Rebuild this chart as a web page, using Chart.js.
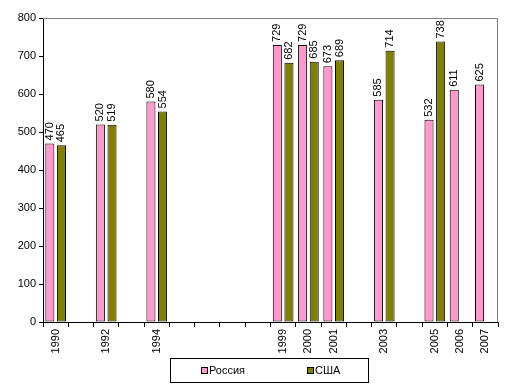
<!DOCTYPE html>
<html>
<head>
<meta charset="utf-8">
<script src="https://cdn.jsdelivr.net/npm/chart.js@4/dist/chart.umd.min.js"></script>
<style>
  html, body { margin: 0; padding: 0; background: #fff; }
  #wrap { width: 512px; height: 391px; }
</style>
</head>
<body>
<div id="wrap"><canvas id="chart" width="512" height="391"></canvas></div>
<script>
// categories and values
const years = ['1990','1991','1992','1993','1994','1995','1996','1997','1998','1999','2000','2001','2002','2003','2004','2005','2006','2007'];
const russia = [470, null, 520, null, 580, null, null, null, null, 729, 729, 673, null, 585, null, 532, 611, 625];
const usa = [465, null, 519, null, 554, null, null, null, null, 682, 685, 689, null, 714, null, 738, null, null];
const yTicks = [0, 100, 200, 300, 400, 500, 600, 700, 800];

const FONT = 'Liberation Sans, Arial, sans-serif';

// gray frame on top and right of the plot
const framePlugin = {
    id: 'frame',
    beforeDatasetsDraw(chart) {
        const a = chart.chartArea, ctx = chart.ctx;
        ctx.save();
        ctx.strokeStyle = '#808080';
        ctx.lineWidth = 1;
        ctx.beginPath();
        ctx.moveTo(a.left, a.top + 0.5);
        ctx.lineTo(a.right - 0.5, a.top + 0.5);
        ctx.lineTo(a.right - 0.5, a.bottom);
        ctx.stroke();
        ctx.restore();
    }
};

// vertical value labels above each bar
const valuePlugin = {
    id: 'values',
    afterDatasetsDraw(chart) {
        const ctx = chart.ctx;
        ctx.save();
        ctx.font = '11px ' + FONT;
        ctx.fillStyle = '#000';
        ctx.textAlign = 'left';
        ctx.textBaseline = 'middle';
        chart.data.datasets.forEach((ds, i) => {
            chart.getDatasetMeta(i).data.forEach((bar, j) => {
                const v = ds.data[j];
                if (v == null) return;
                ctx.save();
                ctx.translate(bar.x, bar.y - 3);
                ctx.rotate(-Math.PI / 2);
                ctx.fillText(String(v), 0, 0);
                ctx.restore();
            });
        });
        ctx.restore();
    }
};

// framed legend below the axis, built from the datasets
const legendPlugin = {
    id: 'boxLegend',
    afterDraw(chart) {
        const ctx = chart.ctx;
        const itemX = [201, 307];
        ctx.save();
        ctx.strokeStyle = '#000';
        ctx.lineWidth = 1;
        ctx.strokeRect(170.5, 358.5, 198, 24);
        ctx.font = '11px ' + FONT;
        ctx.textAlign = 'left';
        ctx.textBaseline = 'middle';
        chart.data.datasets.forEach((ds, i) => {
            const x = itemX[i];
            ctx.fillStyle = ds.backgroundColor;
            ctx.fillRect(x, 367, 6, 6);
            ctx.strokeStyle = '#000';
            ctx.strokeRect(x + 0.5, 367.5, 6, 6);
            ctx.fillStyle = '#000';
            ctx.fillText(ds.label, x + 8, 370.5);
        });
        ctx.restore();
    }
};

new Chart(document.getElementById('chart'), {
    type: 'bar',
    data: {
        labels: years,
        datasets: [{
            label: 'Россия',
            data: russia,
            backgroundColor: '#FF99CC',
            borderColor: '#000',
            borderWidth: 1,
            borderSkipped: false
        }, {
            label: 'США',
            data: usa,
            backgroundColor: '#808000',
            borderColor: '#000',
            borderWidth: 1,
            borderSkipped: false
        }]
    },
    options: {
        responsive: false,
        animation: false,
        skipNull: false,
        categoryPercentage: 0.92,
        barPercentage: 0.78,
        layout: { padding: { top: 18, right: 14, left: 0, bottom: 36 } },
        plugins: {
            tooltip: { enabled: false },
            legend: { display: false }
        },
        scales: {
            x: {
                offset: true,
                grid: { display: true, offset: true, drawOnChartArea: false, color: '#000', tickLength: 5 },
                border: { color: '#000' },
                ticks: {
                    font: { family: FONT, size: 11 },
                    color: '#000',
                    minRotation: 90,
                    maxRotation: 90,
                    autoSkip: false,
                    padding: 2,
                    callback(v, i) {
                        return (russia[i] != null || usa[i] != null) ? years[i] : '';
                    }
                },
                afterFit(s) { s.height = 33; }
            },
            y: {
                min: 0,
                max: 800,
                afterBuildTicks(s) { s.ticks = yTicks.map(v => ({ value: v })); },
                grid: { display: true, drawOnChartArea: false, color: '#000', tickLength: 4 },
                border: { color: '#000' },
                ticks: {
                    font: { family: FONT, size: 11 },
                    color: '#000',
                    padding: 3
                },
                afterFit(s) { s.width = 43; }
            }
        }
    },
    plugins: [framePlugin, valuePlugin, legendPlugin]
});
</script>
</body>
</html>
